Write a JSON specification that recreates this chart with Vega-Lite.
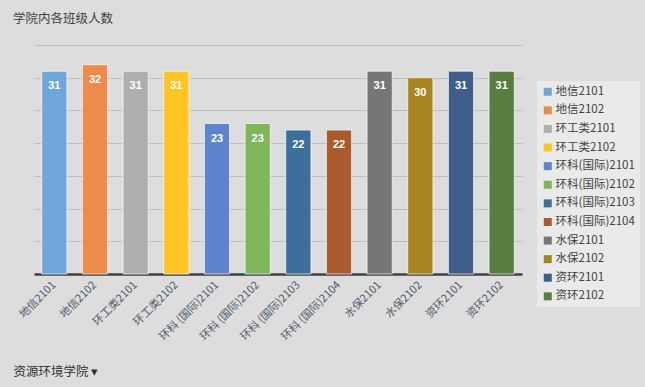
{
  "$schema": "https://vega.github.io/schema/vega-lite/v6.json",
  "width": 488,
  "height": 229,
  "autosize": {"type": "none"},
  "padding": {"left": 34, "top": 45, "right": 123, "bottom": 113},
  "background": "#dddddd",
  "title": {
    "text": "学院内各班级人数",
    "anchor": "start",
    "frame": "group",
    "dx": -21,
    "offset": 20,
    "fontSize": 12.5,
    "fontWeight": "normal",
    "color": "#404040",
    "font": "Noto Sans CJK SC"
  },
  "config": {
    "font": "Liberation Sans",
    "view": {"stroke": null}
  },
  "data": {
    "values": [
      {"班级": "地信2101", "人数": 31},
      {"班级": "地信2102", "人数": 32},
      {"班级": "环工类2101", "人数": 31},
      {"班级": "环工类2102", "人数": 31},
      {"班级": "环科(国际)2101", "人数": 23},
      {"班级": "环科(国际)2102", "人数": 23},
      {"班级": "环科(国际)2103", "人数": 22},
      {"班级": "环科(国际)2104", "人数": 22},
      {"班级": "水保2101", "人数": 31},
      {"班级": "水保2102", "人数": 30},
      {"班级": "资环2101", "人数": 31},
      {"班级": "资环2102", "人数": 31}
    ]
  },
  "encoding": {
    "x": {
      "field": "班级",
      "type": "nominal",
      "sort": null,
      "scale": {"paddingInner": 0.38, "paddingOuter": 0.19},
      "axis": {
        "title": "资源环境学院  ▾",
        "titleX": -21,
        "titleY": 97,
        "titleAlign": "left",
        "titleBaseline": "middle",
        "titleFontSize": 12.5,
        "titleFontWeight": "normal",
        "titleColor": "#303030",
        "titleFont": "Noto Sans CJK SC",
        "labelAngle": -45,
        "labelAlign": "right",
        "labelBaseline": "middle",
        "labelFontSize": 11,
        "labelColor": "#505a6c",
        "labelPadding": 9,
        "labelFont": "Noto Sans CJK SC",
        "ticks": false,
        "domainColor": "#404040",
        "domainWidth": 2.5,
        "labelExpr": "replace(datum.label, '(', ' (')"
      }
    },
    "y": {
      "field": "人数",
      "type": "quantitative",
      "scale": {"domain": [0, 35], "nice": false},
      "axis": {
        "title": null,
        "labels": false,
        "ticks": false,
        "domain": false,
        "values": [5, 10, 15, 20, 25, 30, 35],
        "gridColor": "#a8a8a8",
        "gridOpacity": 0.6
      }
    }
  },
  "layer": [
    {
      "mark": {"type": "bar", "stroke": "#ffffff", "strokeWidth": 1, "strokeOpacity": 0.7},
      "encoding": {
        "color": {
          "field": "班级",
          "type": "nominal",
          "sort": null,
          "scale": {
            "range": ["#6EA6DA", "#EE8A4C", "#AEAEAE", "#FFC522", "#5D84CC", "#7FB65A", "#3C6F9C", "#A95B2C", "#767676", "#A78521", "#3F5D8A", "#577D41"]
          },
          "legend": {
            "title": null,
            "orient": "none",
            "legendX": 503,
            "legendY": 36,
            "fillColor": "#eaeaea",
            "padding": 5,
            "symbolType": "square",
            "symbolSize": 64,
            "symbolStrokeWidth": 0,
            "labelFontSize": 11.5,
            "labelColor": "#404040",
            "labelFont": "Noto Sans CJK SC",
            "labelOffset": 2,
            "rowPadding": 5.6
          }
        }
      }
    },
    {
      "mark": {"type": "text", "baseline": "top", "dy": 9, "color": "#ffffff", "fontWeight": "bold", "fontSize": 11},
      "encoding": {
        "text": {"field": "人数", "type": "quantitative"}
      }
    }
  ]
}
